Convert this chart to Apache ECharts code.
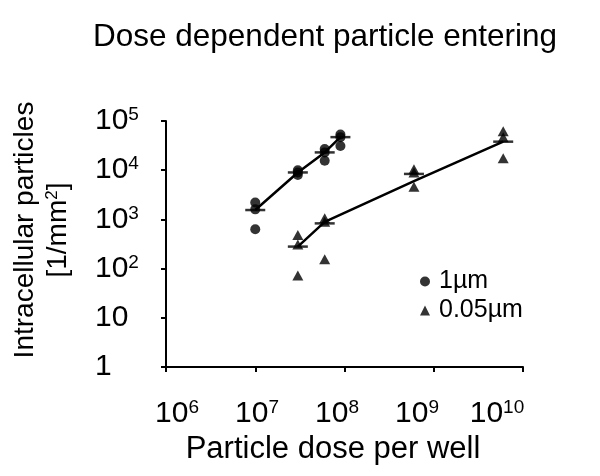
<!DOCTYPE html>
<html><head><meta charset="utf-8">
<script src="https://cdn.jsdelivr.net/npm/echarts@6/dist/echarts.min.js"></script>
<style>html,body{margin:0;padding:0;background:#fff}#c{width:600px;height:476px}</style>
</head><body><div id="c"></div>
<script>
// ---- text ----
const chartTitle = 'Dose dependent particle entering';
const xAxisName = 'Particle dose per well';
const yAxisName1 = 'Intracellular particles';
const yAxisName2a = '[1/mm';
const yAxisName2sup = '2';
const yAxisName2b = ']';
const seriesNames = ['1µm', '0.05µm'];
const xTickExponents = [6, 7, 8, 9, 10];

// ---- data: 1 µm particles ----
const um1DoseX = [1e7, 1e7, 1e7, 3e7, 3e7, 3e7, 6e7, 6e7, 6e7, 9e7, 9e7, 9e7];
const um1Values = [2200, 1600, 630, 10000, 9000, 8000, 27000, 23000, 15500, 53000, 47000, 31000];
const um1Doses = [1e7, 3e7, 6e7, 9e7];
const um1Median = [1550, 9000, 23000, 47000];

// ---- data: 0.05 µm particles ----
const nmDoseX = [3e7, 3e7, 3e7, 6e7, 6e7, 6e7, 6e8, 6e8, 6e8, 6e9, 6e9, 6e9];
const nmValues = [480, 310, 72, 1050, 900, 155, 10400, 9000, 4600, 62000, 47000, 17500];
const nmDoses = [3e7, 6e7, 6e8, 6e9];
const nmMedian = [280, 830, 8400, 38000];
const nmFit = [280, 890, 6000, 38000];

const zip = (xs, ys) => xs.map((x, i) => [x, ys[i]]);
const exp10 = v => Math.round(Math.log10(v));

const FONT = 'Liberation Sans, Arial, sans-serif';
const tickRich = {
  b: { fontSize: 30, fontFamily: FONT, color: '#000' },
  s: { fontSize: 19, fontFamily: FONT, color: '#000', padding: [0, 0, 12, 0] }
};

const chart = echarts.init(document.getElementById('c'), null, { renderer: 'canvas' });
chart.setOption({
  backgroundColor: '#fff',
  animation: false,
  title: {
    text: chartTitle, left: 88, top: 16,
    textStyle: { fontSize: 31.5, fontWeight: 'normal', fontFamily: FONT, color: '#000' }
  },
  legend: {
    data: seriesNames, orient: 'vertical', left: 420, top: 269, padding: 0,
    itemWidth: 10, itemHeight: 10, itemGap: 4,
    textStyle: { fontSize: 25, fontFamily: FONT, color: '#000', padding: [0, 0, 0, 4] }
  },
  grid: { left: 166, right: 77, top: 121, bottom: 109, containLabel: false, outerBoundsMode: 'none' },
  xAxis: [{
    type: 'log', logBase: 10, min: 1e6, max: 1e10,
    name: xAxisName, nameLocation: 'middle', nameGap: 67,
    nameTextStyle: { fontSize: 31, fontFamily: FONT, color: '#000', padding: [0, 23, 0, 0] },
    axisLine: { show: true, lineStyle: { color: '#000', width: 2 } },
    axisTick: { show: true, length: 5, lineStyle: { color: '#000', width: 2 } },
    axisLabel: { show: false },
    splitLine: { show: false }, minorTick: { show: false }
  }, {
    // label row: the reference places its tick labels at a slightly narrower pitch than the ticks
    type: 'value', min: xTickExponents[0], max: 10.4625, interval: 1, position: 'bottom',
    axisLine: { show: false }, axisTick: { show: false }, splitLine: { show: false },
    axisLabel: {
      show: true, margin: 31, interval: 0, showMinLabel: true, showMaxLabel: false,
      padding: [0, 0, 0, 22],
      formatter: v => xTickExponents.indexOf(Math.round(v)) >= 0 && Math.abs(v - Math.round(v)) < 1e-6 ? '{b|10}{s|' + Math.round(v) + '}' : '',
      rich: tickRich
    }
  }],
  yAxis: {
    type: 'log', logBase: 10, min: 1, max: 1e5,
    name: '{n|' + yAxisName1 + '}\n{n|' + yAxisName2a + '}{ns|' + yAxisName2sup + '}{n|' + yAxisName2b + '}',
    nameLocation: 'middle', nameRotate: 90, nameGap: 91,
    nameTextStyle: {
      fontSize: 28, fontFamily: FONT, color: '#000', padding: [0, 0, 0, 28],
      rich: {
        n: { fontSize: 28, fontFamily: FONT, color: '#000', lineHeight: 33 },
        ns: { fontSize: 17, fontFamily: FONT, color: '#000', lineHeight: 33, padding: [0, 0, 12, 0] }
      }
    },
    axisLine: { show: true, lineStyle: { color: '#000', width: 2 } },
    axisTick: { show: true, length: 5, lineStyle: { color: '#000', width: 2 } },
    axisLabel: {
      align: 'left', margin: 71,
      formatter: v => { const e = exp10(v); return e === 0 ? '{b|1}' : e === 1 ? '{b|10}' : '{b|10}{s|' + e + '}'; },
      rich: tickRich
    },
    splitLine: { show: false }, minorTick: { show: false }
  },
  series: [
    {
      name: seriesNames[0], type: 'scatter', xAxisIndex: 0, symbol: 'circle', symbolSize: 10,
      itemStyle: { color: '#000' }, data: zip(um1DoseX, um1Values), z: 3
    },
    {
      name: seriesNames[1], type: 'scatter', xAxisIndex: 0, symbol: 'triangle', symbolSize: [11, 10],
      itemStyle: { color: '#000' }, data: zip(nmDoseX, nmValues), z: 3
    },
    {
      name: 'median1', type: 'scatter', xAxisIndex: 0, symbol: 'rect', symbolSize: [20, 2.5],
      itemStyle: { color: '#000' }, data: zip(um1Doses, um1Median), z: 4
    },
    {
      name: 'median2', type: 'scatter', xAxisIndex: 0, symbol: 'rect', symbolSize: [20, 2.5],
      itemStyle: { color: '#000' }, data: zip(nmDoses, nmMedian), z: 4
    },
    {
      name: 'line1', type: 'line', xAxisIndex: 0, showSymbol: false, symbol: 'none',
      lineStyle: { color: '#000', width: 2.5 }, data: zip(um1Doses, um1Median), z: 2
    },
    {
      name: 'line2', type: 'line', xAxisIndex: 0, showSymbol: false, symbol: 'none',
      lineStyle: { color: '#000', width: 2.5 }, data: zip(nmDoses, nmFit), z: 2
    }
  ]
});
</script></body></html>
